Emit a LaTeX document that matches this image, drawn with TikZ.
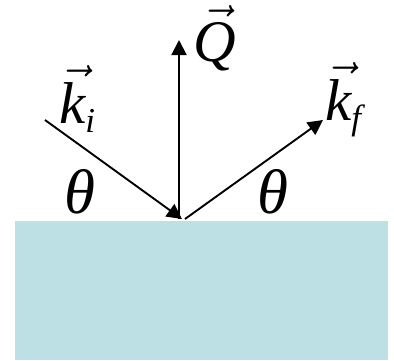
\RequirePackage{fix-cm}
\documentclass[tikz,border=0pt]{standalone}
\usepackage{amsmath}
\usepackage{fontspec}
\setmainfont{Liberation Serif}
\usetikzlibrary{arrows.meta}
\definecolor{tinta}{HTML}{000000}
\definecolor{sustrato}{HTML}{BCE0E3}
% subíndice en cursiva, más pequeño y bajado
\newcommand{\subind}[1]{\raisebox{-9pt}{\fontsize{35}{35}\selectfont\textit{#1}}}
\tikzset{
  % Haces: vectores de onda incidente, dispersado y transferido
  haz/.style      = {line width=1.9pt, color=tinta},
  vector/.style   = {haz, -{Triangle[length=15pt, width=15pt]}},
  % Superficie de la muestra
  muestra/.style  = {fill=sustrato, draw=none},
  % Etiquetas: anclaje en la línea base, tamaño grande
  etiqueta/.style = {anchor=base west, inner sep=0pt, color=tinta,
                     font=\fontsize{59}{62}\selectfont},
  angulo/.style   = {etiqueta, font=\fontsize{63}{66}\selectfont},
}

\begin{document}
\begin{tikzpicture}[x=1pt, y=1pt]
  \useasboundingbox (0,0) rectangle (394,360);

  % muestra
  \fill[muestra] (15,0) rectangle (388,139);

  % puntos de la geometría
  \coordinate (entrada) at (45,240);
  \coordinate (impacto) at (182,141);
  \coordinate (pie)     at (179,141);
  \coordinate (salida)  at (185,141);
  \coordinate (Qtip)    at (179,320);
  \coordinate (kftip)   at (323,240);

  \draw[vector] (entrada) -- (impacto);
  \draw[vector] (pie) -- (Qtip);
  \draw[vector] (salida) -- (kftip);

  % etiquetas
  \node[etiqueta] (ki)    at (59,237)  {$\skew{2}{\vec}{\textit{k}}$\subind{i}};
  \node[etiqueta] (Q)     at (193,299) {$\skew{2}{\vec}{\textit{Q}}$};
  \node[etiqueta] (kf)    at (325,240) {$\skew{2}{\vec}{\textit{k}}$\subind{f}};
  \node[angulo]   (thi)   at (64,147)  {\textit{θ}};
  \node[angulo]   (thf)   at (257,147) {\textit{θ}};

\end{tikzpicture}
\end{document}
